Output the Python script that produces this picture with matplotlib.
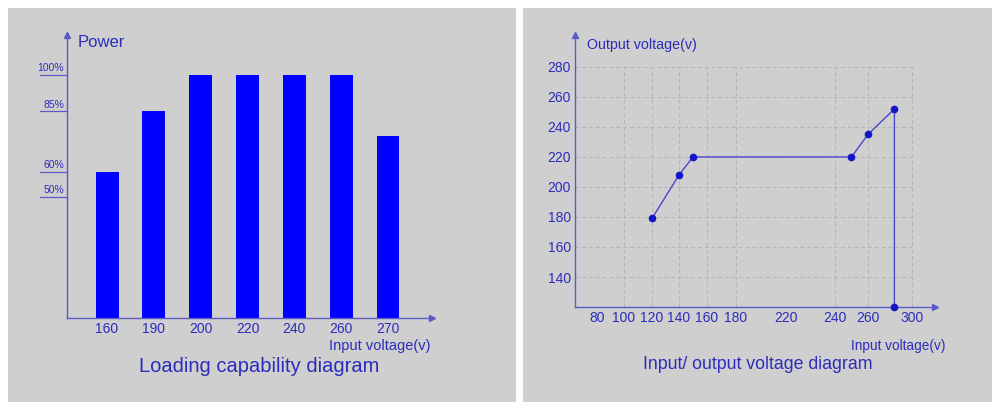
import numpy as np
import matplotlib
matplotlib.use("Agg")
import matplotlib.pyplot as plt
from matplotlib.patches import Rectangle
from matplotlib.transforms import blended_transform_factory

# left chart: loading capability
load_categories = ["160", "190", "200", "220", "240", "260", "270"]
load_power = [60, 85, 100, 100, 100, 100, 75]
power_marks = [100, 85, 60, 50]

# right chart: input / output voltage
io_input = [120, 140, 150, 250, 260, 284, 284]
io_output = [179, 208, 220, 220, 235, 252, 120]
x_tick_values = [80, 100, 120, 140, 160, 180, 220, 240, 260, 300]
x_grid_values = [100, 120, 140, 160, 180, 240, 260, 300]
y_tick_values = [140, 160, 180, 200, 220, 240, 260, 280]

# the original x axis is hand drawn and not linear: pixel offsets of its ticks
x_tick_pos = [22, 49, 77, 104, 132, 161, 211, 260, 293, 337]
x_axis_len = 360

plt.rcParams["font.family"] = ["Liberation Sans", "DejaVu Sans"]

TEXT = "#2c2cbc"
AXIS = "#5a5ac8"
BAR = "#0000ff"
GRID = "#b4b4b4"
PANEL = "#cfcfcf"

fig = plt.figure(figsize=(10, 4.11), dpi=100)
fig.patch.set_facecolor("white")
for x0, x1 in [(0.008, 0.516), (0.523, 0.992)]:
    fig.patches.append(Rectangle((x0, 0.022), x1 - x0, 0.958, transform=fig.transFigure,
                                 facecolor=PANEL, edgecolor="none", zorder=-5))


def style_axes(ax):
    ax.set_facecolor("none")
    for s in ["top", "right"]:
        ax.spines[s].set_visible(False)
    for s in ["left", "bottom"]:
        ax.spines[s].set_color(AXIS)
        ax.spines[s].set_linewidth(1.0)
    ax.tick_params(length=0, colors=TEXT)
    ax.plot(1, 0, ">", color=AXIS, ms=5, transform=ax.transAxes, clip_on=False)
    ax.plot(0, 1, "^", color=AXIS, ms=5, transform=ax.transAxes, clip_on=False)


# ---- left: loading capability diagram
ax1 = fig.add_axes([0.067, 0.2263, 0.365, 0.6886])
style_axes(ax1)
pos = np.arange(len(load_categories))
ax1.bar(pos, load_power, width=0.49, color=BAR, zorder=2)
ax1.set_xlim(-0.855, len(load_categories) - 1 + 0.94)
ax1.set_ylim(0, 116.5)
ax1.set_xticks(pos)
ax1.set_xticklabels(load_categories, fontsize=10, color=TEXT)
ax1.tick_params(axis="x", pad=3)
ax1.set_yticks([])
tr = blended_transform_factory(ax1.transAxes, ax1.transData)
for v in power_marks:
    ax1.plot([-0.074, 0], [v, v], color=AXIS, lw=0.9, transform=tr, clip_on=False)
    ax1.text(-0.008, v + 0.8, f"{v}%", ha="right", va="bottom", fontsize=7.5,
             color=TEXT, transform=tr)
ax1.text(0.030, 0.975, "Power", fontsize=12, color=TEXT, va="center", ha="left",
         transform=ax1.transAxes)
ax1.text(0.995, -0.099, "Input voltage(v)", fontsize=10.5, color=TEXT, va="center",
         ha="right", transform=ax1.transAxes)
ax1.text(0.526, -0.170, "Loading capability diagram", fontsize=14.5, color=TEXT,
         va="center", ha="center", transform=ax1.transAxes)

# ---- right: input/output voltage diagram
xv = np.array(x_tick_values, dtype=float)
xp = np.array(x_tick_pos, dtype=float)
lo = xv[0] - xp[0] * (xv[1] - xv[0]) / (xp[1] - xp[0])
hi = xv[-1] + (x_axis_len - xp[-1]) * (xv[-1] - xv[-2]) / (xp[-1] - xp[-2])
xv_ext = np.concatenate([[lo], xv, [hi]])
xp_ext = np.concatenate([[0], xp, [x_axis_len]])


def fwd(v):
    return np.interp(v, xv_ext, xp_ext)


def inv(p):
    return np.interp(p, xp_ext, xv_ext)


ax2 = fig.add_axes([0.575, 0.253, 0.36, 0.662])
ax2.set_xscale("function", functions=(fwd, inv))
style_axes(ax2)
ax2.set_xlim(lo, hi)
ax2.set_ylim(120, 301.3)

ax2.hlines(y_tick_values, lo, 300, colors=GRID, linestyles=(0, (4, 3)), lw=0.7, zorder=1)
ax2.vlines(x_grid_values, 120, 280, colors=GRID, linestyles=(0, (4, 3)), lw=0.7, zorder=1)

ax2.plot(io_input, io_output, color="#4646d0", lw=1.0, marker="o", ms=4.5,
         mfc="#1515c8", mec="#1515c8", zorder=3, clip_on=False)

ax2.set_xticks(x_tick_values)
ax2.set_xticklabels([str(v) for v in x_tick_values], fontsize=10, color=TEXT)
ax2.xaxis.set_minor_locator(matplotlib.ticker.NullLocator())
ax2.set_yticks(y_tick_values)
ax2.set_yticklabels([str(v) for v in y_tick_values], fontsize=10, color=TEXT)
ax2.tick_params(axis="x", pad=3)
ax2.tick_params(axis="y", pad=3)
ax2.text(0.033, 0.963, "Output voltage(v)", fontsize=10.3, color=TEXT, va="center",
         ha="left", transform=ax2.transAxes)
ax2.text(1.028, -0.143, "Input voltage(v)", fontsize=9.8, color=TEXT, va="center",
         ha="right", transform=ax2.transAxes)
ax2.text(0.508, -0.21, "Input/ output voltage diagram", fontsize=12.8, color=TEXT,
         va="center", ha="center", transform=ax2.transAxes)

fig.savefig("out.png", dpi=100)
